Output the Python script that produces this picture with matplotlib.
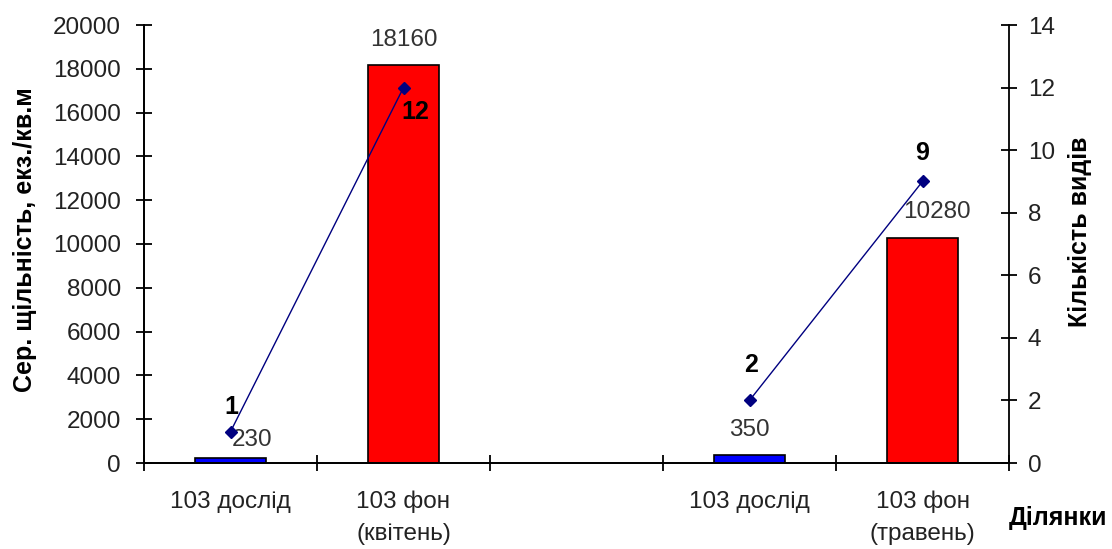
import numpy as np
import matplotlib
matplotlib.use("Agg")
import matplotlib.pyplot as plt

plt.rcParams['font.family'] = ['Liberation Sans', 'DejaVu Sans']

# Data
categories = ["103 дослід", "103 фон\n(квітень)", "", "103 дослід", "103 фон\n(травень)"]
density = [230, 18160, np.nan, 350, 10280]          # середня щільність, екз./кв.м
species = [1, 12, np.nan, 2, 9]                      # кількість видів
bar_colors = ["#0000FF", "#FF0000", "#FFFFFF", "#0000FF", "#FF0000"]

# label offsets in pixels (dx, dy) from the data point
density_label_offsets = [(22, 18), (0, 25), None, (0, 25), (14, 26)]
species_label_offsets = [(1, 25), (12, -24), None, (2, 35), (0, 28)]

FS = 17.5
FS_BOLD = 18

fig = plt.figure(figsize=(11.12, 5.49), dpi=100)
ax = fig.add_axes([144 / 1112, 86 / 549, 865 / 1112, 438 / 549])
ax2 = ax.twinx()

x = np.arange(len(categories))
ax.bar(x, density, width=0.41, color=bar_colors, edgecolor="black", linewidth=1.2, zorder=2)

ax.set_xlim(-0.5, len(categories) - 0.5)
ax.set_ylim(0, 20000)
ax.set_yticks(np.arange(0, 20001, 2000))
ax2.set_ylim(0, 14)
ax2.set_yticks(np.arange(0, 15, 2))

# category ticks at boundaries, labels at centers
ax.set_xticks(np.arange(-0.5, len(categories)), minor=False)
ax.set_xticklabels([])
ax.set_xticks(x, minor=True)
ax.set_xticklabels(categories, minor=True, fontsize=FS, color="#222222", linespacing=1.6)
ax.tick_params(axis="x", which="minor", length=0, pad=20)
ax.tick_params(axis="x", which="major", direction="inout", length=11, width=1.3, color="black")
ax.tick_params(axis="y", direction="inout", length=11, width=1.3, labelsize=FS, labelcolor="#222222", pad=11)
ax2.tick_params(axis="y", direction="inout", length=11, width=1.3, labelsize=FS, labelcolor="#222222", pad=8)

for a in (ax, ax2):
    a.spines["top"].set_visible(False)
    for s in ("left", "right", "bottom"):
        a.spines[s].set_linewidth(1.3)
        a.spines[s].set_color("black")
ax.spines["right"].set_visible(False)

# species line on secondary axis
ax2.plot(x, species, color="#000080", linewidth=1.0, marker="D", markersize=6, zorder=3)

for xi, v, off in zip(x, density, density_label_offsets):
    if off is None:
        continue
    ax.annotate(f"{v:g}", (xi, v), xytext=off, textcoords="offset pixels",
                ha="center", va="center", fontsize=FS, color="#333333")

for xi, v, off in zip(x, species, species_label_offsets):
    if off is None:
        continue
    ax2.annotate(f"{v:g}", (xi, v), xytext=off, textcoords="offset pixels",
                 ha="center", va="center", fontsize=FS_BOLD, fontweight="bold", color="black")

fig.text(25 / 1112, 1 - 240 / 549, "Сер. щільність, екз./кв.м", rotation=90,
         ha="center", va="center", fontsize=FS_BOLD, fontweight="bold", color="black")
fig.text(1080 / 1112, 1 - 232 / 549, "Кількість видів", rotation=90,
         ha="center", va="center", fontsize=FS_BOLD, fontweight="bold", color="black")
fig.text(1058 / 1112, 1 - 518 / 549, "Ділянки",
         ha="center", va="center", fontsize=FS_BOLD, fontweight="bold", color="black")

fig.savefig("out.png", dpi=100)
